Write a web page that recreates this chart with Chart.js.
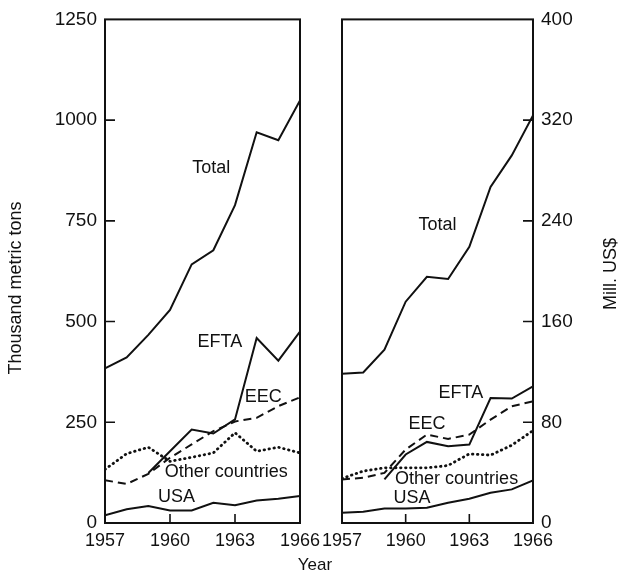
<!DOCTYPE html>
<html>
<head>
<meta charset="utf-8">
<script src="https://cdn.jsdelivr.net/npm/chart.js@4"></script>
<style>
  body { margin: 0; background: #fff; }
  #wrap { position: relative; width: 619px; height: 583px; }
  canvas { position: absolute; left: 0; top: 0; }
</style>
</head>
<body>
<div id="wrap">
  <canvas id="tons" width="619" height="583"></canvas>
  <canvas id="usd" width="619" height="583"></canvas>
</div>
<script>
const years = [1957, 1958, 1959, 1960, 1961, 1962, 1963, 1964, 1965, 1966];

// left panel, thousand metric tons
const tonsTotal = [384, 411, 467, 529, 642, 677, 789, 970, 950, 1049];
const tonsEFTA  = [null, null, 124, 178, 232, 222, 257, 459, 403, 475];
const tonsEEC   = [106, 97, 122, 162, 195, 228, 252, 261, 290, 312];
const tonsOther = [133, 172, 188, 153, 163, 174, 224, 178, 188, 174];
const tonsUSA   = [19, 34, 42, 31, 31, 50, 44, 56, 60, 67];

// right panel, mill. US$
const usdTotal = [118.6, 119.6, 137.6, 175.8, 195.6, 193.8, 219.4, 267, 292, 323.7];
const usdEFTA  = [null, null, 34.6, 54.4, 64.4, 61, 62.3, 99.3, 98.8, 108.5];
const usdEEC   = [34.6, 35.9, 39.8, 58.4, 70.2, 66.8, 70.2, 82.1, 92.7, 96.6];
const usdOther = [35.4, 41.2, 43.8, 43.8, 43.8, 45.7, 54.9, 53.9, 61.8, 73.4];
const usdUSA   = [8.2, 9, 11.6, 11.6, 12.1, 16.1, 19.2, 24, 26.7, 33.8];

const tonsTicks = [0, 1250, 250];
const usdTicks = [0, 400, 80];

const tonsNotes = [
  { text: "Total", x: 1961.9, y: 882 },
  { text: "EFTA", x: 1962.3, y: 449 },
  { text: "EEC", x: 1964.3, y: 313 },
  { text: "Other countries", x: 1962.6, y: 126 },
  { text: "USA", x: 1960.3, y: 64 }
];
const usdNotes = [
  { text: "Total", x: 1961.5, y: 237 },
  { text: "EFTA", x: 1962.6, y: 103 },
  { text: "EEC", x: 1961.0, y: 79 },
  { text: "Other countries", x: 1962.4, y: 35 },
  { text: "USA", x: 1960.3, y: 20 }
];

const INK = "#111";
const FONT = "'Liberation Sans', Arial, sans-serif";

function pts(vals) { return years.map((yr, i) => ({ x: yr, y: vals[i] })); }

function series(vals, kind) {
  const ds = { data: pts(vals), borderColor: INK, borderWidth: 2, pointRadius: 0, fill: false, tension: 0, spanGaps: false };
  if (kind === "dash") ds.borderDash = [8, 5];
  if (kind === "dot") { ds.borderDash = [0.5, 4.5]; ds.borderWidth = 2.8; ds.borderCapStyle = "round"; }
  return ds;
}

// box, inward ticks, text labels and axis titles
const frame = {
  id: "frame",
  afterDraw(chart, args, o) {
    const { ctx, chartArea: a, scales } = chart;
    ctx.save();
    ctx.strokeStyle = INK;
    ctx.lineWidth = 2;
    ctx.strokeRect(a.left, a.top, a.right - a.left, a.bottom - a.top);
    ctx.lineWidth = 1.6;
    ctx.beginPath();
    scales.x.ticks.forEach(t => {
      if (t.value <= scales.x.min || t.value >= scales.x.max) return;
      const px = scales.x.getPixelForValue(t.value);
      ctx.moveTo(px, a.bottom); ctx.lineTo(px, a.bottom - 9);
    });
    const ys = scales.y;
    const edge = ys.position === "left" ? a.left : a.right;
    const dir = ys.position === "left" ? 1 : -1;
    ys.ticks.forEach(t => {
      if (t.value <= ys.min || t.value >= ys.max) return;
      const py = ys.getPixelForValue(t.value);
      ctx.moveTo(edge, py); ctx.lineTo(edge + dir * 10, py);
    });
    ctx.stroke();

    ctx.fillStyle = INK;
    ctx.textAlign = "center";
    ctx.textBaseline = "middle";
    ctx.font = "18px " + FONT;
    o.notes.forEach(n => {
      ctx.fillText(n.text, scales.x.getPixelForValue(n.x), ys.getPixelForValue(n.y));
    });

    ctx.translate(o.titleX, o.titleY);
    ctx.rotate(-Math.PI / 2);
    ctx.fillText(o.title, 0, 0);
    ctx.restore();

    if (o.year) {
      ctx.save();
      ctx.fillStyle = INK;
      ctx.font = "17px " + FONT;
      ctx.textAlign = "center";
      ctx.textBaseline = "middle";
      ctx.fillText("Year", 315, 565);
      ctx.restore();
    }
  }
};

function makeChart(id, sets, ticks, notes, side, pad, title, titleX, titleY, year) {
  return new Chart(document.getElementById(id), {
    type: "line",
    data: { datasets: sets },
    options: {
      responsive: false,
      animation: false,
      layout: { padding: pad },
      plugins: {
        legend: { display: false },
        tooltip: { enabled: false },
        frame: { notes, title, titleX, titleY, year }
      },
      scales: {
        x: {
          type: "linear", min: years[0], max: years[years.length - 1],
          grid: { display: false, drawTicks: false },
          border: { display: false },
          afterFit(s) { s.height = 60; },
          ticks: { stepSize: 3, color: INK, padding: 7, font: { family: FONT, size: 18 }, callback: v => String(v), maxRotation: 0 }
        },
        y: {
          position: side,
          min: ticks[0], max: ticks[1],
          grid: { display: false, drawTicks: false },
          border: { display: false },
          afterFit(s) { s.width = side === "left" ? 105 : 86; },
          ticks: { stepSize: ticks[2], color: INK, padding: 8, font: { family: FONT, size: 19 }, callback: v => String(v) }
        }
      }
    },
    plugins: [frame]
  });
}

makeChart("tons",
  [series(tonsTotal), series(tonsEFTA), series(tonsEEC, "dash"), series(tonsOther, "dot"), series(tonsUSA)],
  tonsTicks, tonsNotes, "left", { left: 0, right: 319, top: 16, bottom: 0 },
  "Thousand metric tons", 16, 288, true);

makeChart("usd",
  [series(usdTotal), series(usdEFTA), series(usdEEC, "dash"), series(usdOther, "dot"), series(usdUSA)],
  usdTicks, usdNotes, "right", { left: 342, right: 0, top: 16, bottom: 0 },
  "Mill. US$", 611, 274, false);
</script>
</body>
</html>
